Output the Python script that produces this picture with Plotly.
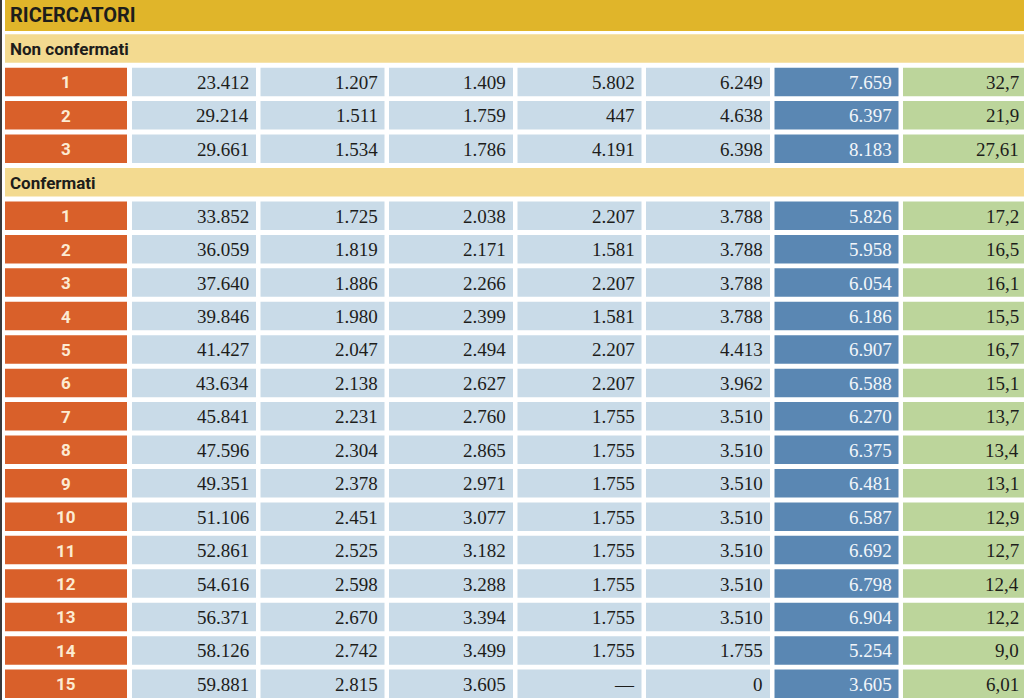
"""Tabella RICERCATORI: classi di anzianità, non confermati e confermati."""
import plotly.graph_objects as go

TITLE = "RICERCATORI"
SECTIONS = ["Non confermati", "Confermati"]

# non confermati
nc_classe = ["1", "2", "3"]
nc_c1 = [23412, 29214, 29661]
nc_c2 = [1207, 1511, 1534]
nc_c3 = [1409, 1759, 1786]
nc_c4 = [5802, 447, 4191]
nc_c5 = [6249, 4638, 6398]
nc_c6 = [7659, 6397, 8183]
nc_pct = ["32,7", "21,9", "27,61"]

# confermati
c_classe = [str(i) for i in range(1, 16)]
c_c1 = [33852, 36059, 37640, 39846, 41427, 43634, 45841, 47596, 49351, 51106,
        52861, 54616, 56371, 58126, 59881]
c_c2 = [1725, 1819, 1886, 1980, 2047, 2138, 2231, 2304, 2378, 2451,
        2525, 2598, 2670, 2742, 2815]
c_c3 = [2038, 2171, 2266, 2399, 2494, 2627, 2760, 2865, 2971, 3077,
        3182, 3288, 3394, 3499, 3605]
c_c4 = [2207, 1581, 2207, 1581, 2207, 2207, 1755, 1755, 1755, 1755,
        1755, 1755, 1755, 1755, None]
c_c5 = [3788, 3788, 3788, 3788, 4413, 3962, 3510, 3510, 3510, 3510,
        3510, 3510, 3510, 1755, 0]
c_c6 = [5826, 5958, 6054, 6186, 6907, 6588, 6270, 6375, 6481, 6587,
        6692, 6798, 6904, 5254, 3605]
c_pct = ["17,2", "16,5", "16,1", "15,5", "16,7", "15,1", "13,7", "13,4", "13,1",
         "12,9", "12,7", "12,4", "12,2", "9,0", "6,01"]

GOLD, SAND = "#e0b52a", "#f3da90"
ORANGE, LBLUE, DBLUE, GREEN = "#d9602a", "#c9dbe8", "#5a87b3", "#bcd59b"
INK = "#1d1d1b"

W, H = 1024, 700
PITCH, CELL_H = 33.44, 28.5
LABEL_X0, LABEL_X1 = 5, 127
COL_X0, COL_W, COL_STEP = 132, 124, 128.5


def fmt(v):
    if v is None:
        return "—"
    return f"{v:,}".replace(",", ".")


rows = []  # (kind, payload)
rows.append(("title", TITLE))
rows.append(("section", SECTIONS[0]))
for r in zip(nc_classe, nc_c1, nc_c2, nc_c3, nc_c4, nc_c5, nc_c6, nc_pct):
    rows.append(("data", r))
rows.append(("section", SECTIONS[1]))
for r in zip(c_classe, c_c1, c_c2, c_c3, c_c4, c_c5, c_c6, c_pct):
    rows.append(("data", r))

shapes, ann = [], []
for i, (kind, p) in enumerate(rows):
    y0 = i * PITCH + 0.8
    y1 = y0 + CELL_H
    if kind == "title":
        y0, y1 = -2, 31
    ym = (y0 + y1) / 2
    if kind in ("title", "section"):
        shapes.append(dict(type="rect", x0=LABEL_X0, x1=W + 10, y0=y0, y1=y1,
                           fillcolor=GOLD if kind == "title" else SAND, line_width=0,
                           layer="below"))
        ann.append(dict(x=8, y=ym + 0.5, text=f"<b>{p}</b>", xanchor="left", yanchor="middle",
                        showarrow=False,
                        font=dict(family="Roboto", size=20 if kind == "title" else 17,
                                  color=INK)))
        continue
    shapes.append(dict(type="rect", x0=LABEL_X0, x1=LABEL_X1, y0=y0, y1=y1,
                       fillcolor=ORANGE, line_width=0, layer="below"))
    ann.append(dict(x=(LABEL_X0 + LABEL_X1) / 2, y=ym + 0.5, text=f"<b>{p[0]}</b>",
                    xanchor="center", yanchor="middle", showarrow=False,
                    font=dict(family="Roboto", size=17, color="#fcebd2")))
    for j, v in enumerate(p[1:]):
        x0 = COL_X0 + j * COL_STEP
        x1 = x0 + COL_W + (8 if j == 6 else 0)
        fill = DBLUE if j == 5 else GREEN if j == 6 else LBLUE
        shapes.append(dict(type="rect", x0=x0, x1=x1, y0=y0, y1=y1,
                           fillcolor=fill, line_width=0, layer="below"))
        txt = v if isinstance(v, str) else fmt(v)
        tx = min(x0 + COL_W - 5, W - 3)
        ann.append(dict(x=tx, y=ym + 0.5, text=txt, xanchor="right", yanchor="middle",
                        showarrow=False,
                        font=dict(family="Liberation Serif", size=19,
                                  color="#f2f6fa" if j == 5 else INK)))

# thin dark rule on the left edge
shapes.append(dict(type="line", x0=1, x1=1, y0=0, y1=H, line=dict(color="#3a3a3a", width=2)))

fig = go.Figure()
fig.update_layout(
    width=W, height=H, margin=dict(l=0, r=0, t=0, b=0),
    paper_bgcolor="white", plot_bgcolor="white",
    xaxis=dict(range=[0, W], visible=False, fixedrange=True),
    yaxis=dict(range=[H, 0], visible=False, fixedrange=True),
    shapes=shapes, annotations=ann, showlegend=False)
fig.write_html("out.html", config={"displayModeBar": False},
               post_script="document.body.style.margin='0';"
                           "document.body.style.overflow='hidden';")
